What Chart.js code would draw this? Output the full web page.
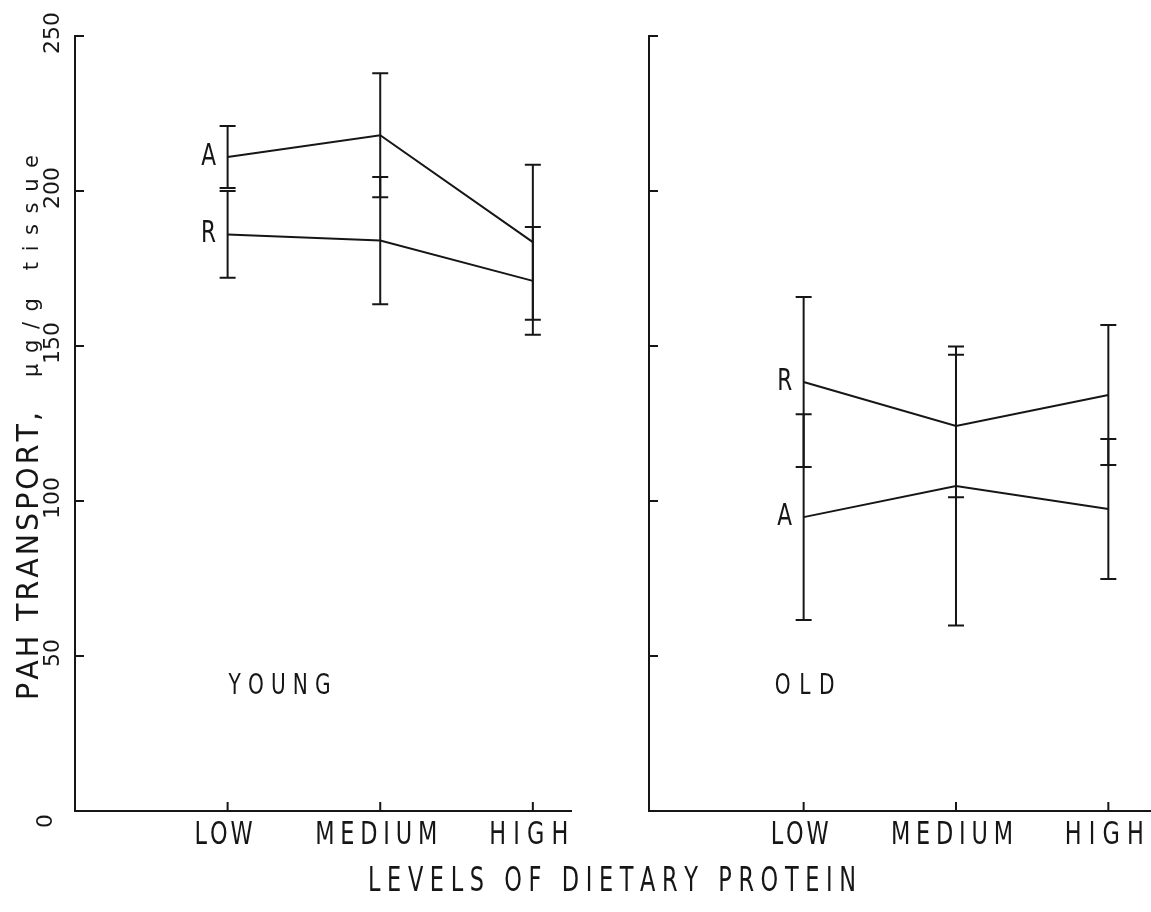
<!DOCTYPE html>
<html><head><meta charset="utf-8">
<script src="https://cdn.jsdelivr.net/npm/chart.js@4.4.1/dist/chart.umd.min.js"></script>
<style>
html,body{margin:0;padding:0;background:#fff;overflow:hidden}
#wrap{position:relative;width:1151px;height:912px;background:#fff}
canvas{position:absolute;top:0}
#cL{left:0}
#cR{left:600px}
</style></head><body>
<div id="wrap">
<canvas id="cL" width="1151" height="912"></canvas>
<canvas id="cR" width="551" height="912"></canvas>
</div>
<script>
// ---------- data ----------
const categories = ['LOW', 'MEDIUM', 'HIGH'];
const yTicks = [0, 50, 100, 150, 200, 250];
const youngA = [211, 218, 183.5];
const youngAErr = [10, 20, 25];
const youngR = [186, 184, 171];
const youngRErr = [14, 20.5, 17.4];
const oldR = [138.4, 124.2, 134.2];
const oldRErr = [27.4, 23, 22.6];
const oldA = [94.8, 104.8, 97.4];
const oldAErr = [33.2, 45, 22.6];
const yTitleCaps = 'PAH TRANSPORT,';
const yTitleUnit = 'µg/g tissue';
const xTitle = 'LEVELS OF DIETARY PROTEIN';

// ---------- helpers ----------
const INK = '#161616';
const FONT = '"DejaVu Sans", "Liberation Sans", sans-serif';
function spacedText(ctx, text, cx, cy, targetW, fontPx, sx, opts) {
  opts = opts || {};
  ctx.save();
  ctx.translate(cx, cy);
  if (opts.rotate) ctx.rotate(-Math.PI / 2);
  ctx.font = fontPx + 'px ' + FONT;
  ctx.fillStyle = INK;
  ctx.textBaseline = opts.baseline || 'middle';
  ctx.textAlign = 'left';
  const chars = Array.from(text);
  const ws = chars.map(c => ctx.measureText(c).width * sx);
  const total = ws.reduce((a, b) => a + b, 0);
  if (targetW == null) targetW = total;
  const gap = chars.length > 1 ? (targetW - total) / (chars.length - 1) : 0;
  let x = -targetW / 2;
  chars.forEach((c, i) => {
    ctx.save();
    ctx.translate(x, 0);
    ctx.scale(sx, 1);
    ctx.fillText(c, 0, 0);
    ctx.restore();
    x += ws[i] + gap;
  });
  ctx.restore();
}

function pts(vals) { return vals.map((v, i) => ({ x: i + 1, y: v })); }

const errorBarPlugin = {
  id: 'errorBars',
  afterDatasetsDraw(chart) {
    const ctx = chart.ctx;
    const xs = chart.scales.x, ys = chart.scales.y;
    ctx.save();
    ctx.strokeStyle = INK;
    ctx.lineWidth = 2;
    chart.data.datasets.forEach(ds => {
      ds.data.forEach((p, i) => {
        const e = ds.errors[i];
        const x = xs.getPixelForValue(p.x);
        const yt = ys.getPixelForValue(p.y + e);
        const yb = ys.getPixelForValue(p.y - e);
        ctx.beginPath();
        ctx.moveTo(x, yt); ctx.lineTo(x, yb);
        ctx.moveTo(x - 8, yt); ctx.lineTo(x + 8, yt);
        ctx.moveTo(x - 8, yb); ctx.lineTo(x + 8, yb);
        ctx.stroke();
      });
      // series tag (A / R) left of the first point
      const p0 = ds.data[0];
      spacedText(ctx, ds.tag, xs.getPixelForValue(p0.x) - 19, ys.getPixelForValue(p0.y), null, 30, 0.72);
    });
    ctx.restore();
  }
};

const axesPlugin = {
  id: 'axesDeco',
  afterDraw(chart, args, o) {
    const ctx = chart.ctx;
    const xs = chart.scales.x, ys = chart.scales.y;
    const left = chart.chartArea.left, bottom = chart.chartArea.bottom;
    ctx.save();
    ctx.strokeStyle = INK;
    ctx.lineWidth = 2;
    ctx.beginPath();
    yTicks.forEach(v => {
      const y = ys.getPixelForValue(v);
      if (v === 0) return;
      ctx.moveTo(left, y); ctx.lineTo(left + 9, y);
    });
    categories.forEach((c, i) => {
      const x = xs.getPixelForValue(i + 1);
      ctx.moveTo(x, bottom); ctx.lineTo(x, bottom - 9);
    });
    ctx.stroke();
    // category labels
    const widths = [58, 122, 79];
    categories.forEach((c, i) => {
      const x = xs.getPixelForValue(i + 1) - 4;
      spacedText(ctx, c, x, bottom + 25, widths[i], 32, 0.7);
    });
    // panel label
    const lx = xs.getPixelForValue(1) + o.labelDx;
    const lw = o.labelW;
    spacedText(ctx, o.label, lx + lw / 2, ys.getPixelForValue(40), lw, 28, 0.72);
    if (o.main) {
      // y tick labels (rotated)
      yTicks.forEach(v => {
        const y = ys.getPixelForValue(v);
        if (v === 0) spacedText(ctx, String(v), 46, y + 10, null, 22, 1, { rotate: true });
        else spacedText(ctx, String(v), 53, y - 3, null, 22, 1, { rotate: true });
      });
      // y title
      spacedText(ctx, yTitleCaps, 38, 556, 288, 30, 0.95, { rotate: true, baseline: 'alphabetic' });
      spacedText(ctx, yTitleUnit, 38, 266, 222, 21, 1, { rotate: true, baseline: 'alphabetic' });
      // x title
      spacedText(ctx, xTitle, 612, 882, 488, 33, 0.68);
    }
    ctx.restore();
  }
};

function makeChart(id, pad, xMin, xMax, sets, deco) {
  return new Chart(document.getElementById(id), {
    type: 'line',
    data: {
      datasets: sets.map(s => ({
        data: pts(s.v), errors: s.e, tag: s.tag,
        borderColor: INK, borderWidth: 2, pointRadius: 0, tension: 0, fill: false, clip: false
      }))
    },
    options: {
      responsive: false, animation: false, events: [],
      layout: { padding: pad },
      plugins: { legend: { display: false }, tooltip: { enabled: false }, axesDeco: deco },
      scales: {
        x: {
          type: 'linear', min: xMin, max: xMax,
          grid: { display: false, drawTicks: false },
          border: { display: true, color: INK, width: 2 },
          ticks: { display: false }
        },
        y: {
          type: 'linear', min: 0, max: 250,
          grid: { display: false, drawTicks: false },
          border: { display: true, color: INK, width: 2 },
          ticks: { display: false }
        }
      }
    },
    plugins: [errorBarPlugin, axesPlugin]
  });
}

makeChart('cL', { left: 75, top: 36, right: 580, bottom: 101 }, 0, 3.25,
  [{ v: youngA, e: youngAErr, tag: 'A' }, { v: youngR, e: youngRErr, tag: 'R' }],
  { main: true, label: 'YOUNG', labelDx: 1, labelW: 102 });
makeChart('cR', { left: 49, top: 36, right: 0, bottom: 101 }, -0.015, 3.28,
  [{ v: oldR, e: oldRErr, tag: 'R' }, { v: oldA, e: oldAErr, tag: 'A' }],
  { main: false, label: 'OLD', labelDx: -29, labelW: 60 });
</script>
</body></html>
